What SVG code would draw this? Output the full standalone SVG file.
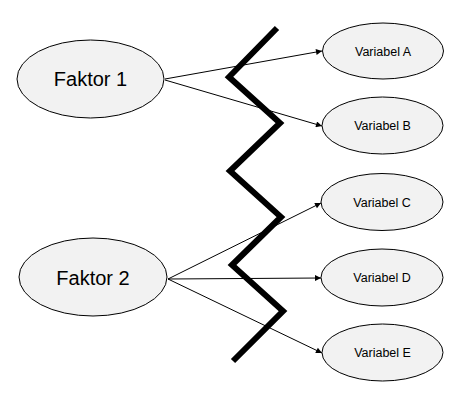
<svg xmlns="http://www.w3.org/2000/svg" width="471" height="400" viewBox="0 0 471 400">
<style>
.n ellipse{fill:#f2f2f2;stroke:#000;stroke-width:1}
.big{font-family:"Liberation Sans",Arial,sans-serif;font-size:20px;fill:#000;text-anchor:middle}
.sm{font-family:"Liberation Sans",Arial,sans-serif;font-size:12.5px;fill:#000;text-anchor:middle}
.c line{stroke:#000;stroke-width:1;marker-end:url(#ah)}
</style>
<defs>
<marker id="ah" viewBox="0 0 10 10" refX="10" refY="5" markerWidth="8" markerHeight="6" markerUnits="userSpaceOnUse" orient="auto">
<path d="M0,0 L10,5 L0,10 z" fill="#000"/>
</marker>
</defs>
<rect width="471" height="400" fill="#fff"/>
<g id="faktor1" class="n"><ellipse cx="90.5" cy="79" rx="73.5" ry="39"/><text class="big" x="90.5" y="86">Faktor 1</text></g>
<g id="faktor2" class="n"><ellipse cx="93" cy="277" rx="74" ry="39"/><text class="big" x="93" y="285">Faktor 2</text></g>
<g id="varA" class="n"><ellipse cx="383" cy="51" rx="60.5" ry="28"/><text class="sm" x="383" y="55.5">Variabel A</text></g>
<g id="varB" class="n"><ellipse cx="382.5" cy="125.5" rx="60.5" ry="28.5"/><text class="sm" x="382.5" y="130">Variabel B</text></g>
<g id="varC" class="n"><ellipse cx="382" cy="202" rx="61" ry="28.5"/><text class="sm" x="382" y="206.5">Variabel C</text></g>
<g id="varD" class="n"><ellipse cx="382" cy="277.5" rx="61" ry="28.5"/><text class="sm" x="382" y="282">Variabel D</text></g>
<g id="varE" class="n"><ellipse cx="382.5" cy="352.5" rx="60.5" ry="28.5"/><text class="sm" x="382.5" y="357">Variabel E</text></g>
<g id="connectors" class="c">
<line x1="165" y1="79" x2="322" y2="51"/>
<line x1="165" y1="80" x2="322" y2="126"/>
<line x1="168" y1="279" x2="321" y2="203"/>
<line x1="168" y1="279" x2="321" y2="278"/>
<line x1="168" y1="279" x2="322" y2="353"/>
</g>
<polyline id="zigzag" points="277,28 229,77 280,123 230,171 281,217 232,265 283,311 233,361" fill="none" stroke="#000" stroke-width="6" stroke-linejoin="miter"/>
</svg>
